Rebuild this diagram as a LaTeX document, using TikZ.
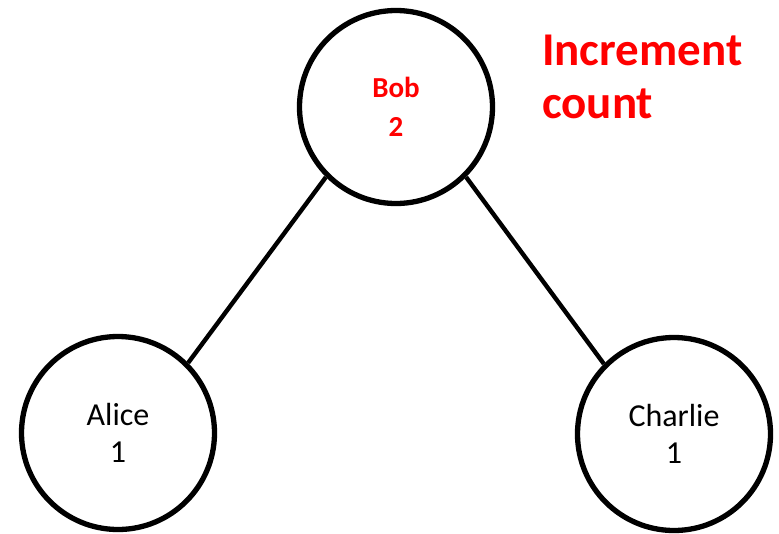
\documentclass[tikz,border=0pt]{standalone}
\usepackage{fontspec}
\setmainfont{Carlito}
\begin{document}
\begin{tikzpicture}[x=1pt,y=-1pt]
	\tikzset{vertex/.style = {shape=circle,draw,line width=5.3pt,minimum size=193pt,inner sep=0pt,align=center,font=\fontsize{32}{37}\selectfont}}
	\tikzset{edge/.style = {draw,line width=4.4pt}}
	\useasboundingbox (0,0) rectangle (779,533);
	\node[vertex,text=red,font=\bfseries\fontsize{29}{39}\selectfont] (bob) at (396,107) {Bob\\2};
	\node[vertex] (alice) at (118,433) {Alice\\1};
	\node[vertex] (charlie) at (674,434) {Charlie\\1};
	\path[edge] (bob.225) -- (alice.45);
	\path[edge] (bob.-45) -- (charlie.135);
	\node[anchor=base west,text=red,align=left,inner sep=0pt,font=\bfseries\fontsize{47}{53}\selectfont] (note) at (542,118) {Increment\\count};
\end{tikzpicture}
\end{document}
